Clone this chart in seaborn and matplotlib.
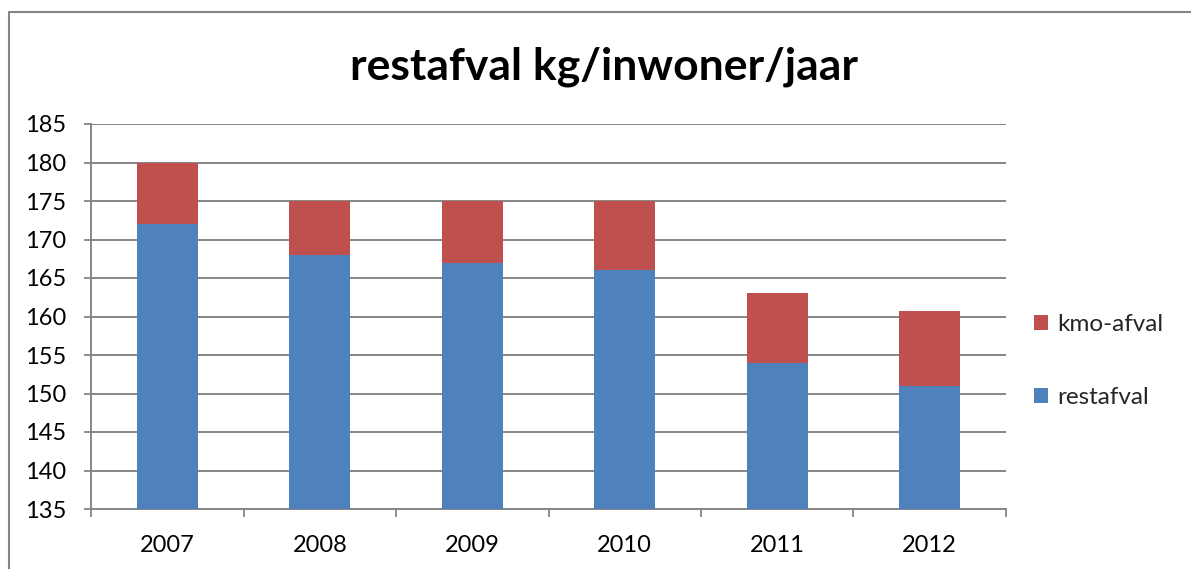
import matplotlib
matplotlib.use("Agg")
import matplotlib.pyplot as plt
import seaborn as sns
import pandas as pd
from matplotlib.patches import Rectangle
from matplotlib.lines import Line2D

years = ["2007", "2008", "2009", "2010", "2011", "2012"]
restafval = [172, 168, 167, 166, 154, 151]
kmo_afval = [8, 7, 8, 9, 9, 9.7]
title = "restafval kg/inwoner/jaar"
series_names = ["kmo-afval", "restafval"]

BLUE = "#4F81BD"
RED = "#C0504D"
GRID = "#868686"

sns.set_theme(style="white")
plt.rcParams["font.family"] = ["Lato", "DejaVu Sans"]

totals = [r + k for r, k in zip(restafval, kmo_afval)]
df = pd.DataFrame({"year": years, "restafval": restafval, "total": totals})

W, H = 1191, 569
fig = plt.figure(figsize=(W / 100, H / 100), dpi=100)
ax = fig.add_axes([91 / W, 1 - 509 / H, (1006 - 91) / W, (509 - 124) / H])

sns.barplot(data=df, x="year", y="total", color=RED, saturation=1, width=0.4, ax=ax, zorder=3)
sns.barplot(data=df, x="year", y="restafval", color=BLUE, saturation=1, width=0.4, ax=ax, zorder=3)
for p in ax.patches:
    p.set_edgecolor("none")

ax.set_ylim(135, 185)
ax.set_yticks(range(135, 186, 5))
ax.set_xlim(-0.5, len(years) - 0.5)
ax.set_xlabel("")
ax.set_ylabel("")
ax.yaxis.grid(True, color=GRID, linewidth=1.4, zorder=0)
ax.set_axisbelow(True)
for s in ["top", "right"]:
    ax.spines[s].set_visible(False)
for s in ["left", "bottom"]:
    ax.spines[s].set_color(GRID)
    ax.spines[s].set_linewidth(1.4)

ax.tick_params(axis="y", which="both", left=True, length=5, width=1.3, color=GRID,
               labelsize=17, pad=13, labelcolor="black")
ax.tick_params(axis="x", bottom=False, labelsize=17, pad=13, labelcolor="black")
# x ticks at category boundaries
ax.set_xticks([i - 0.5 for i in range(len(years) + 1)], minor=True)
ax.tick_params(axis="x", which="minor", bottom=True, length=6, width=1.3, color=GRID)

fig.text(604 / W, 1 - 67 / H, title, ha="center", va="center",
         fontsize=32, fontweight="bold", color="black")

handles = [Rectangle((0, 0), 1, 1, facecolor=RED, edgecolor="none"),
           Rectangle((0, 0), 1, 1, facecolor=BLUE, edgecolor="none")]
fig.legend(handles, series_names, loc="center left", bbox_to_anchor=(1012 / W, 1 - 361 / H),
           frameon=False, fontsize=17.5, handlelength=0.6, handleheight=0.6,
           handletextpad=0.35, labelspacing=2.15)

# chart frame
fig.add_artist(Line2D([9 / W, 9 / W], [0, 1 - 12 / H], transform=fig.transFigure,
                      color=GRID, linewidth=1.5))
fig.add_artist(Line2D([9 / W, 1], [1 - 12 / H, 1 - 12 / H], transform=fig.transFigure,
                      color=GRID, linewidth=1.5))

fig.savefig("out.png", dpi=100)
